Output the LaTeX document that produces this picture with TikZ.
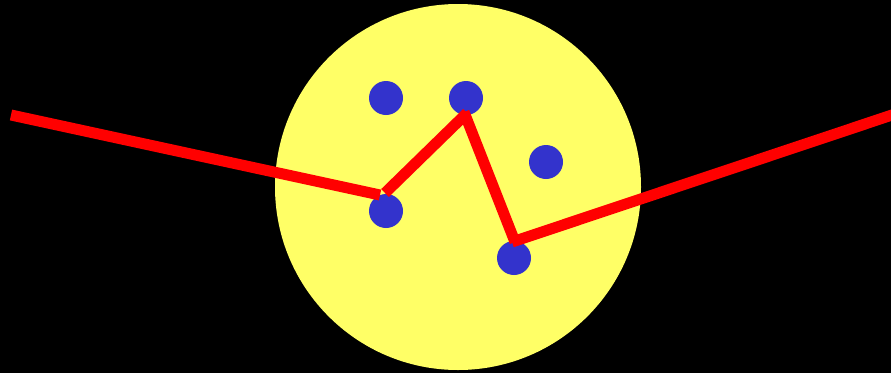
\documentclass[tikz,border=0pt]{standalone}
\begin{document}
\begin{tikzpicture}[x=1pt,y=-1pt,
  dot/.style={circle,fill={rgb,255:red,51;green,51;blue,204},minimum size=34pt,inner sep=0pt},
  seg/.style={draw=red,line width=11pt,line cap=butt}]
\fill[black] (0,0) rectangle (891,373);
\useasboundingbox (0,0) rectangle (891,373);
\node[circle,fill={rgb,255:red,255;green,255;blue,102},minimum size=366pt,inner sep=0pt] (sun) at (458,187) {};
\node[dot] (d1) at (386,98) {};
\node[dot] (d2) at (466,98) {};
\node[dot] (d3) at (546,162) {};
\node[dot] (d4) at (386,211) {};
\node[dot] (d5) at (514,258) {};
\coordinate (a0) at (11,115);
\coordinate (a1) at (380,195);
\coordinate (b0) at (385,193);
\coordinate (b1) at (467,113);
\coordinate (c0) at (464,112);
\coordinate (c1) at (515,242);
\coordinate (e0) at (512,242);
\coordinate (e1) at (895,114);
\draw[seg] (a0) -- (a1);
\draw[seg] (b0) -- (b1);
\draw[seg] (c0) -- (c1);
\draw[seg] (e0) -- (e1);
\end{tikzpicture}
\end{document}
